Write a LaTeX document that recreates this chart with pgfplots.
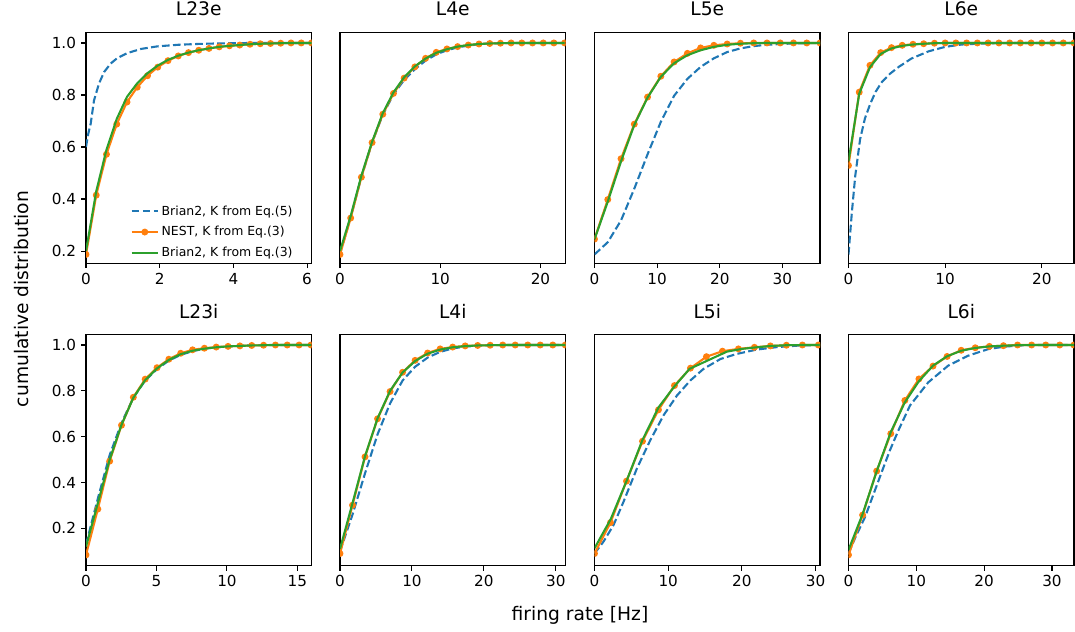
\documentclass[border=0pt]{standalone}
\usepackage{fontspec}
\setmainfont{DejaVu Sans}
\usepackage{pgfplots}
\pgfplotsset{compat=1.18}
\definecolor{tblue}{HTML}{1F77B4}
\definecolor{torange}{HTML}{FF7F0E}
\definecolor{tgreen}{HTML}{2CA02C}
\pgfplotsset{
  panel/.style={
    scale only axis, width=162.36bp, height=166.32bp, anchor=south west,
    xmin=0, axis line style={line width=0.8bp},
    every tick/.style={line width=0.8bp, black},
    tick align=outside, major tick length=3.5bp,
    xtick pos=bottom, ytick pos=left,
    clip marker paths=true,
    /pgf/number format/assume math mode=true,
    tick label style={font=\fontsize{11}{13}\selectfont},
    xticklabel style={anchor=north, inner sep=0pt, yshift=-3.5bp},
    yticklabel style={anchor=east, inner sep=0pt, xshift=-3.5bp,
      /pgf/number format/fixed, /pgf/number format/fixed zerofill, /pgf/number format/precision=1},
    ytick={0.2,0.4,0.6,0.8,1.0},
    title style={at={(0.5,1)}, anchor=base, yshift=6bp, inner sep=0pt, font=\fontsize{13.5}{15}\selectfont},
  },
  toprow/.style={ymin=0.153, ymax=1.041},
  botrow/.style={ymin=0.037, ymax=1.045},
  noy/.style={yticklabels={}, ytick=\empty},
  bl/.style={tblue, line width=1.5bp, dash pattern=on 5.55bp off 2.4bp},
  or/.style={torange, line width=1.5bp, mark=*, mark size=1.7bp, mark options={solid, fill=torange, draw=torange}},
  gr/.style={tgreen, line width=1.5bp},
  mylegimg/.style={legend image code/.code={\draw[mark repeat=2, mark phase=2, ##1] plot coordinates {(0bp,0bp) (9.4bp,0bp) (18.8bp,0bp)};}},
}
\begin{document}
\begin{tikzpicture}
\useasboundingbox (0,0) rectangle (774bp,455.04bp);
% ---------------- L23e
\begin{axis}[panel, toprow, at={(61.92bp,265.46bp)}, xmax=6.12, xtick={0,2,4,6}, title={L23e},
  legend style={draw=none, fill=none, at={(0.197,0.263)}, anchor=north west, inner sep=0pt,
    font=\fontsize{9}{10}\selectfont, row sep=2.6bp, cells={anchor=west}},
  mylegimg]
\addplot[bl] coordinates {(0,0.600) (0.06,0.65) (0.128,0.69) (0.217,0.779) (0.353,0.844) (0.49,0.888) (0.67,0.921) (0.85,0.942) (1.12,0.961) (1.49,0.977) (1.94,0.987) (2.5,0.993) (3.0,0.996) (3.5,0.998) (4.0,0.999) (4.5,1.0) (6.12,1.0)};
\addlegendentry{Brian2, K from Eq.(5)}
\addplot[or] coordinates {(0,0.187) (0.278,0.415) (0.556,0.572) (0.834,0.688) (1.113,0.773) (1.391,0.830) (1.669,0.874) (1.947,0.907) (2.225,0.932) (2.504,0.950) (2.782,0.963) (3.060,0.972) (3.338,0.979) (3.616,0.985) (3.894,0.989) (4.173,0.992) (4.451,0.995) (4.729,0.997) (5.007,0.998) (5.285,0.999) (5.564,1.0) (5.842,1.0) (6.120,1.0)};
\addlegendentry{NEST, K from Eq.(3)}
\addplot[gr] coordinates {(0,0.20) (0.278,0.43) (0.556,0.59) (0.834,0.708) (1.113,0.793) (1.391,0.845) (1.669,0.884) (1.947,0.913) (2.225,0.935) (2.504,0.951) (2.782,0.963) (3.060,0.972) (3.338,0.979) (3.616,0.985) (3.894,0.989) (4.173,0.992) (4.451,0.995) (4.729,0.997) (5.007,0.998) (5.285,0.999) (5.564,1.0) (5.842,1.0) (6.120,1.0)};
\addlegendentry{Brian2, K from Eq.(3)}
\end{axis}
% ---------------- L4e
\begin{axis}[panel, toprow, noy, at={(244.8bp,265.46bp)}, xmax=22.5, xtick={0,10,20}, title={L4e}]
\addplot[bl] coordinates {(0,0.19) (1.067,0.33) (2.134,0.485) (3.201,0.617) (4.268,0.724) (5.335,0.802) (6.402,0.858) (7.469,0.899) (8.536,0.932) (9.603,0.956) (10.67,0.972) (11.74,0.983) (12.80,0.990) (13.87,0.995) (14.94,0.998) (16.01,0.999) (17.07,1.0) (22.41,1.0)};
\addplot[or] coordinates {(0,0.187) (1.067,0.327) (2.134,0.484) (3.201,0.617) (4.268,0.726) (5.335,0.806) (6.402,0.865) (7.469,0.908) (8.536,0.941) (9.603,0.964) (10.67,0.977) (11.74,0.986) (12.80,0.992) (13.87,0.996) (14.94,0.998) (16.01,0.999) (17.07,1.0) (18.14,1.0) (19.21,1.0) (20.28,1.0) (21.34,1.0) (22.41,1.0)};
\addplot[gr] coordinates {(0,0.20) (1.067,0.335) (2.134,0.49) (3.201,0.62) (4.268,0.73) (5.335,0.81) (6.402,0.868) (7.469,0.91) (8.536,0.94) (9.603,0.962) (10.67,0.976) (11.74,0.986) (12.80,0.992) (13.87,0.996) (14.94,0.998) (16.01,0.999) (17.07,1.0) (22.41,1.0)};
\end{axis}
% ---------------- L5e
\begin{axis}[panel, toprow, noy, at={(428.04bp,265.46bp)}, xmax=36.0, xtick={0,10,20,30}, title={L5e}]
\addplot[bl] coordinates {(0,0.187) (2.118,0.234) (4.236,0.318) (6.354,0.440) (8.472,0.572) (10.59,0.697) (12.71,0.797) (14.83,0.862) (16.94,0.908) (19.06,0.941) (21.18,0.965) (23.30,0.979) (25.42,0.988) (27.54,0.993) (29.65,0.996) (31.77,0.998) (33.89,0.999) (36.0,1.0)};
\addplot[or] coordinates {(0,0.246) (2.118,0.398) (4.236,0.555) (6.354,0.688) (8.472,0.792) (10.59,0.872) (12.71,0.927) (14.83,0.960) (16.94,0.981) (19.06,0.991) (21.18,0.996) (23.30,0.999) (25.42,1.0) (27.54,1.0) (29.65,1.0) (31.77,1.0) (33.89,1.0) (36.0,1.0)};
\addplot[gr] coordinates {(0,0.245) (2.118,0.39) (4.236,0.545) (6.354,0.685) (8.472,0.79) (10.59,0.87) (12.71,0.922) (14.83,0.953) (16.94,0.972) (19.06,0.985) (21.18,0.993) (23.30,0.997) (25.42,0.999) (27.54,1.0) (36.0,1.0)};
\end{axis}
% ---------------- L6e
\begin{axis}[panel, toprow, noy, at={(610.92bp,265.46bp)}, xmax=23.33, xtick={0,10,20}, title={L6e}]
\addplot[bl] coordinates {(0,0.187) (0.35,0.35) (0.7,0.49) (1.2,0.63) (1.7,0.71) (2.25,0.766) (2.8,0.812) (3.45,0.85) (4.3,0.882) (5.2,0.908) (6.5,0.94) (8.3,0.968) (10,0.985) (11.7,0.994) (13.4,0.997) (15,0.999) (17,1.0) (23.33,1.0)};
\addplot[or] coordinates {(0,0.529) (1.111,0.811) (2.222,0.914) (3.333,0.963) (4.444,0.982) (5.556,0.991) (6.667,0.995) (7.778,0.997) (8.889,0.999) (10.0,1.0) (11.11,1.0) (12.22,1.0) (13.33,1.0) (14.44,1.0) (15.56,1.0) (16.67,1.0) (17.78,1.0) (18.89,1.0) (20.0,1.0) (21.11,1.0) (22.22,1.0) (23.33,1.0)};
\addplot[gr] coordinates {(0,0.545) (1.111,0.805) (2.222,0.907) (3.333,0.958) (4.444,0.979) (5.556,0.989) (6.667,0.994) (7.778,0.997) (8.889,0.999) (10.0,1.0) (23.33,1.0)};
\end{axis}
% ---------------- L23i
\begin{axis}[panel, botrow, at={(61.92bp,47.74bp)}, xmax=16.0, xtick={0,5,10,15}, title={L23i}]
\addplot[bl] coordinates {(0,0.13) (0.84,0.33) (1.68,0.52) (2.52,0.66) (3.36,0.77) (4.20,0.845) (5.04,0.895) (5.88,0.932) (6.72,0.957) (7.56,0.973) (8.40,0.984) (9.24,0.99) (10.08,0.994) (11,0.997) (12,0.999) (13,1.0) (15.96,1.0)};
\addplot[or] coordinates {(0,0.084) (0.84,0.284) (1.68,0.493) (2.52,0.650) (3.36,0.772) (4.20,0.851) (5.04,0.901) (5.88,0.938) (6.72,0.964) (7.56,0.979) (8.40,0.986) (9.24,0.991) (10.08,0.994) (10.92,0.996) (11.76,0.998) (12.60,0.999) (13.44,1.0) (14.28,1.0) (15.12,1.0) (15.96,1.0)};
\addplot[gr] coordinates {(0,0.12) (0.84,0.31) (1.68,0.50) (2.52,0.652) (3.36,0.77) (4.20,0.847) (5.04,0.898) (5.88,0.935) (6.72,0.96) (7.56,0.975) (8.40,0.984) (9.24,0.99) (10.08,0.994) (10.92,0.996) (11.76,0.998) (12.60,0.999) (13.44,1.0) (15.96,1.0)};
\end{axis}
% ---------------- L4i
\begin{axis}[panel, botrow, noy, at={(244.8bp,47.74bp)}, xmax=31.35, xtick={0,10,20,30}, title={L4i}]
\addplot[bl] coordinates {(0,0.10) (1.74,0.26) (3.48,0.44) (5.22,0.61) (6.96,0.745) (8.70,0.845) (10.44,0.905) (12.18,0.945) (13.92,0.97) (15.66,0.985) (17.40,0.993) (19.14,0.997) (20.88,0.999) (22.62,1.0) (31.32,1.0)};
\addplot[or] coordinates {(0,0.090) (1.74,0.301) (3.48,0.512) (5.22,0.678) (6.96,0.797) (8.70,0.881) (10.44,0.933) (12.18,0.965) (13.92,0.983) (15.66,0.991) (17.40,0.996) (19.14,0.998) (20.88,0.999) (22.62,1.0) (24.36,1.0) (26.10,1.0) (27.84,1.0) (29.58,1.0) (31.32,1.0)};
\addplot[gr] coordinates {(0,0.11) (1.74,0.31) (3.48,0.515) (5.22,0.68) (6.96,0.80) (8.70,0.88) (10.44,0.93) (12.18,0.962) (13.92,0.98) (15.66,0.99) (17.40,0.995) (19.14,0.998) (20.88,0.999) (22.62,1.0) (31.32,1.0)};
\end{axis}
% ---------------- L5i
\begin{axis}[panel, botrow, noy, at={(428.04bp,47.74bp)}, xmax=30.6, xtick={0,10,20,30}, title={L5i}]
\addplot[bl] coordinates {(0,0.09) (1.22,0.142) (2.58,0.214) (3.94,0.316) (5.75,0.461) (7.56,0.584) (9.37,0.693) (11.2,0.780) (13.0,0.845) (14.8,0.896) (17.1,0.939) (19.3,0.961) (22.0,0.980) (24.8,0.991) (27.5,0.997) (30.5,1.0)};
\addplot[or] coordinates {(0,0.090) (2.17,0.225) (4.34,0.406) (6.51,0.580) (8.68,0.717) (10.85,0.823) (13.02,0.899) (15.19,0.949) (17.36,0.973) (19.53,0.983) (21.70,0.990) (23.87,0.996) (26.04,0.999) (28.21,1.0) (30.38,1.0)};
\addplot[gr] coordinates {(0,0.113) (2.2,0.24) (4.39,0.41) (6.5,0.585) (8.69,0.728) (10.86,0.82) (12.9,0.896) (17.96,0.971) (20.0,0.983) (22.0,0.99) (24.0,0.996) (26.0,0.999) (28.2,1.0) (30.6,1.0)};
\end{axis}
% ---------------- L6i
\begin{axis}[panel, botrow, noy, at={(610.92bp,47.74bp)}, xmax=33.25, xtick={0,10,20,30}, title={L6i}]
\addplot[bl] coordinates {(0,0.09) (1.0,0.16) (2.45,0.25) (3.7,0.35) (4.9,0.446) (6.1,0.54) (7.35,0.627) (9.07,0.736) (11.76,0.837) (14.7,0.91) (17.6,0.953) (20.6,0.982) (23.0,0.993) (26.0,0.999) (28.0,1.0) (33.23,1.0)};
\addplot[or] coordinates {(0,0.084) (2.077,0.258) (4.154,0.45) (6.231,0.613) (8.308,0.758) (10.385,0.852) (12.462,0.908) (14.539,0.950) (16.616,0.977) (18.693,0.988) (20.77,0.994) (22.847,0.997) (24.924,1.0) (27.0,1.0) (29.08,1.0) (31.15,1.0) (33.23,1.0)};
\addplot[gr] coordinates {(0,0.106) (2.077,0.262) (4.154,0.449) (6.231,0.62) (8.308,0.75) (10.385,0.842) (12.462,0.91) (14.539,0.951) (16.616,0.975) (18.693,0.987) (20.77,0.994) (22.847,0.997) (24.924,0.999) (27.0,1.0) (33.23,1.0)};
\end{axis}
% labels
\node[rotate=90, font=\fontsize{13.5}{15}\selectfont] at (15.84bp,239.8bp) {cumulative distribution};
\node[font=\fontsize{13.5}{15}\selectfont] at (417.6bp,12.2bp) {firing rate [Hz]};
\end{tikzpicture}
\end{document}
